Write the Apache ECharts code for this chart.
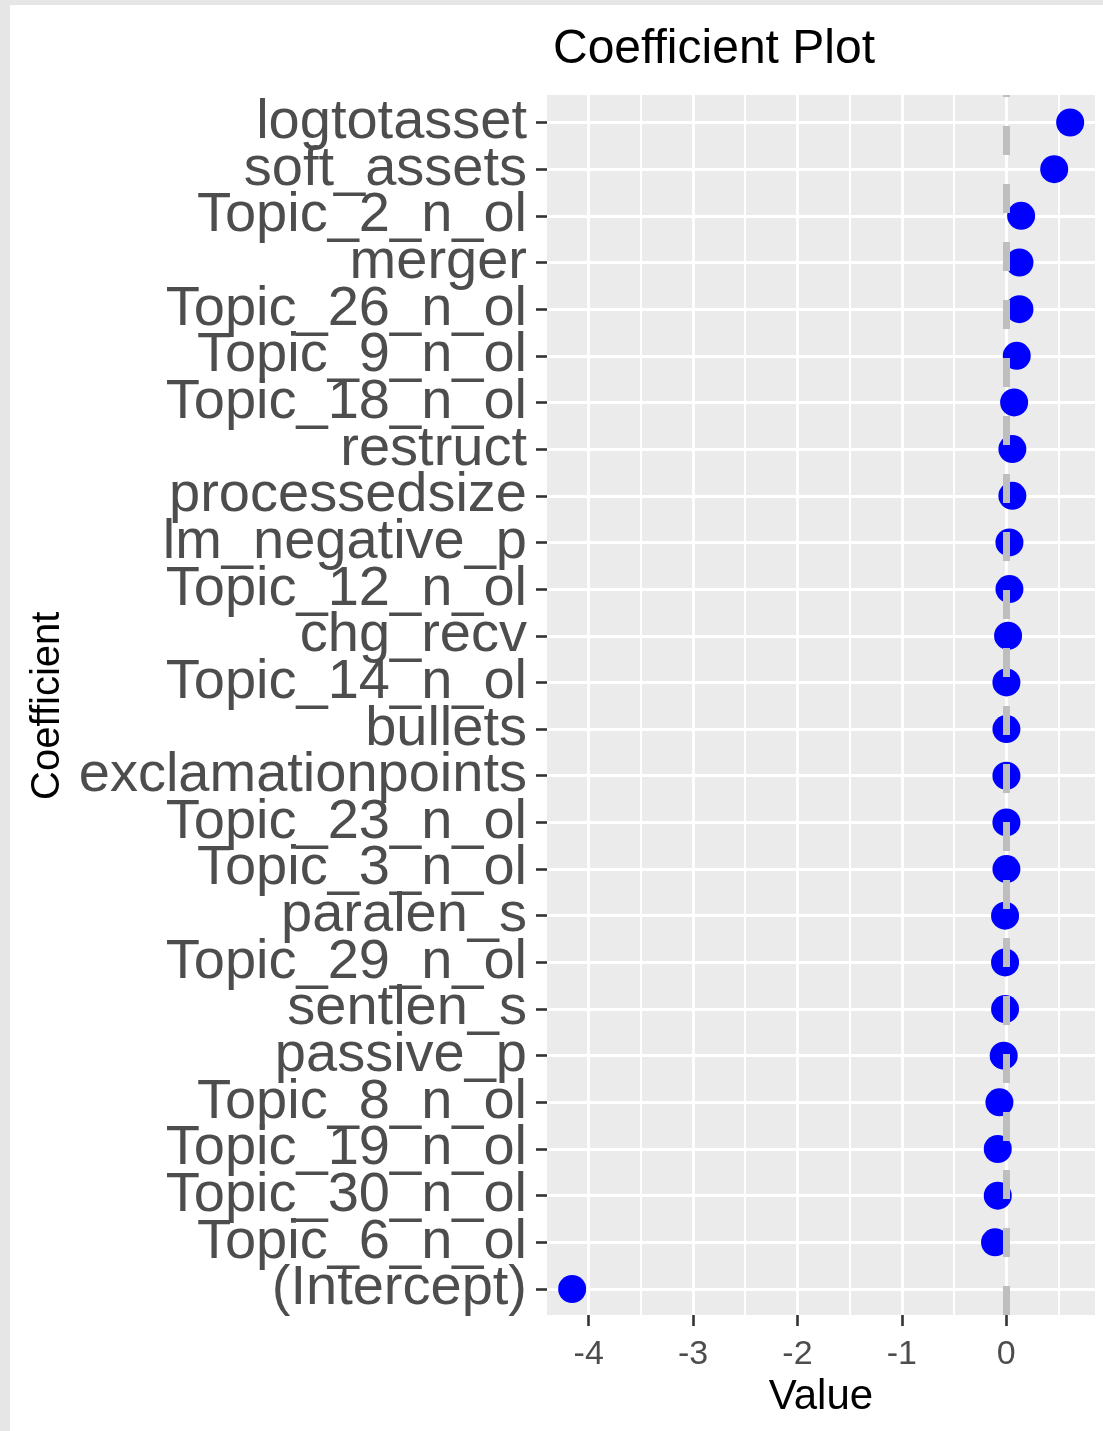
<!DOCTYPE html>
<html>
<head>
<meta charset="utf-8">
<title>Coefficient Plot</title>
<script src="https://cdn.jsdelivr.net/npm/echarts@6/dist/echarts.min.js"></script>
<style>
  html, body { margin: 0; padding: 0; background: #e6e6e6; }
  #chart { position: absolute; left: 10px; top: 5px; width: 1093px; height: 1426px; background: #fff; }
</style>
</head>
<body>
<div id="chart"></div>
<script>
// coefficients, top to bottom as in the plot
const coefNames = [
  'logtotasset', 'soft_assets', 'Topic_2_n_ol', 'merger', 'Topic_26_n_ol',
  'Topic_9_n_ol', 'Topic_18_n_ol', 'restruct', 'processedsize', 'lm_negative_p',
  'Topic_12_n_ol', 'chg_recv', 'Topic_14_n_ol', 'bullets', 'exclamationpoints',
  'Topic_23_n_ol', 'Topic_3_n_ol', 'paralen_s', 'Topic_29_n_ol', 'sentlen_s',
  'passive_p', 'Topic_8_n_ol', 'Topic_19_n_ol', 'Topic_30_n_ol', 'Topic_6_n_ol',
  '(Intercept)'
];
const coefValues = [
  0.614, 0.461, 0.144, 0.128, 0.128,
  0.102, 0.077, 0.060, 0.060, 0.032,
  0.032, 0.019, 0.003, 0.003, 0.003,
  0.003, 0.003, -0.010, -0.010, -0.010,
  -0.023, -0.064, -0.080, -0.080, -0.106,
  -4.159
];
const xTicks = [-4, -3, -2, -1, 0];
const xMinorTicks = [-3.5, -2.5, -1.5, -0.5, 0.5];
const xMin = -4.40;
const xMax = 0.852;

const chart = echarts.init(document.getElementById('chart'), null, { renderer: 'canvas' });
const font = 'Liberation Sans, Arial, sans-serif';

chart.setOption({
  animation: false,
  title: {
    text: 'Coefficient Plot',
    left: 538,
    top: 16,
    textStyle: { fontFamily: font, fontSize: 48, fontWeight: 'normal', color: '#000', lineHeight: 48 }
  },
  grid: [
    // panel
    { left: 537, right: 8, top: 90, bottom: 116, show: true, backgroundColor: '#ebebeb', borderWidth: 0, outerBoundsMode: 'none' },
    // category rows
    { left: 537, right: 8, top: 117.5, bottom: 142, outerBoundsMode: 'none' }
  ],
  xAxis: [
    {
      type: 'value', gridIndex: 0, min: xMin, max: xMax, position: 'bottom',
      name: 'Value', nameLocation: 'middle', nameGap: 61,
      nameTextStyle: { fontFamily: font, fontSize: 42, color: '#000', lineHeight: 42 },
      axisLine: { show: false, onZero: false },
      axisTick: { show: true, length: 11, customValues: xTicks, lineStyle: { color: '#333', width: 2.6 } },
      axisLabel: { customValues: xTicks, margin: 23, fontFamily: font, fontSize: 34, color: '#4d4d4d', lineHeight: 34 },
      splitLine: { show: true, lineStyle: { color: '#fff', width: 2.8 } }
    },
    {
      type: 'value', gridIndex: 1, min: xMin, max: xMax, show: false
    },
    {
      type: 'value', gridIndex: 0, min: xMin, max: xMax,
      axisLine: { show: false, onZero: false },
      axisTick: { show: false, customValues: xMinorTicks },
      axisLabel: { show: false },
      splitLine: { show: true, lineStyle: { color: '#fff', width: 2 } }
    }
  ],
  yAxis: [
    { type: 'value', gridIndex: 0, min: 0, max: 1, show: false },
    {
      type: 'category', gridIndex: 1, data: coefNames, inverse: true, boundaryGap: false, position: 'left',
      name: 'Coefficient', nameLocation: 'middle', nameGap: 477, nameRotate: 90,
      nameTextStyle: { fontFamily: font, fontSize: 40, color: '#000', lineHeight: 40 },
      axisLine: { show: false, onZero: false },
      axisTick: { show: true, length: 11, lineStyle: { color: '#333', width: 2.6 } },
      axisLabel: { interval: 0, margin: 20, fontFamily: font, fontSize: 56, color: '#4d4d4d', lineHeight: 56 },
      splitLine: { show: true, interval: 0, lineStyle: { color: '#fff', width: 2.8 } }
    }
  ],
  series: [
    {
      type: 'scatter', xAxisIndex: 0, yAxisIndex: 0, data: [], z: 2,
      markLine: {
        silent: true, symbol: ['none', 'none'], label: { show: false },
        lineStyle: { color: '#bebebe', width: 7, type: [29, 29], opacity: 1 },
        emphasis: { disabled: true },
        data: [{ xAxis: 0 }]
      }
    },
    {
      type: 'scatter', xAxisIndex: 1, yAxisIndex: 1, z: 3,
      symbolSize: 28,
      itemStyle: { color: '#0000ff', opacity: 1 },
      data: coefValues.map((v, i) => [v, coefNames[i]])
    }
  ]
});
</script>
</body>
</html>
